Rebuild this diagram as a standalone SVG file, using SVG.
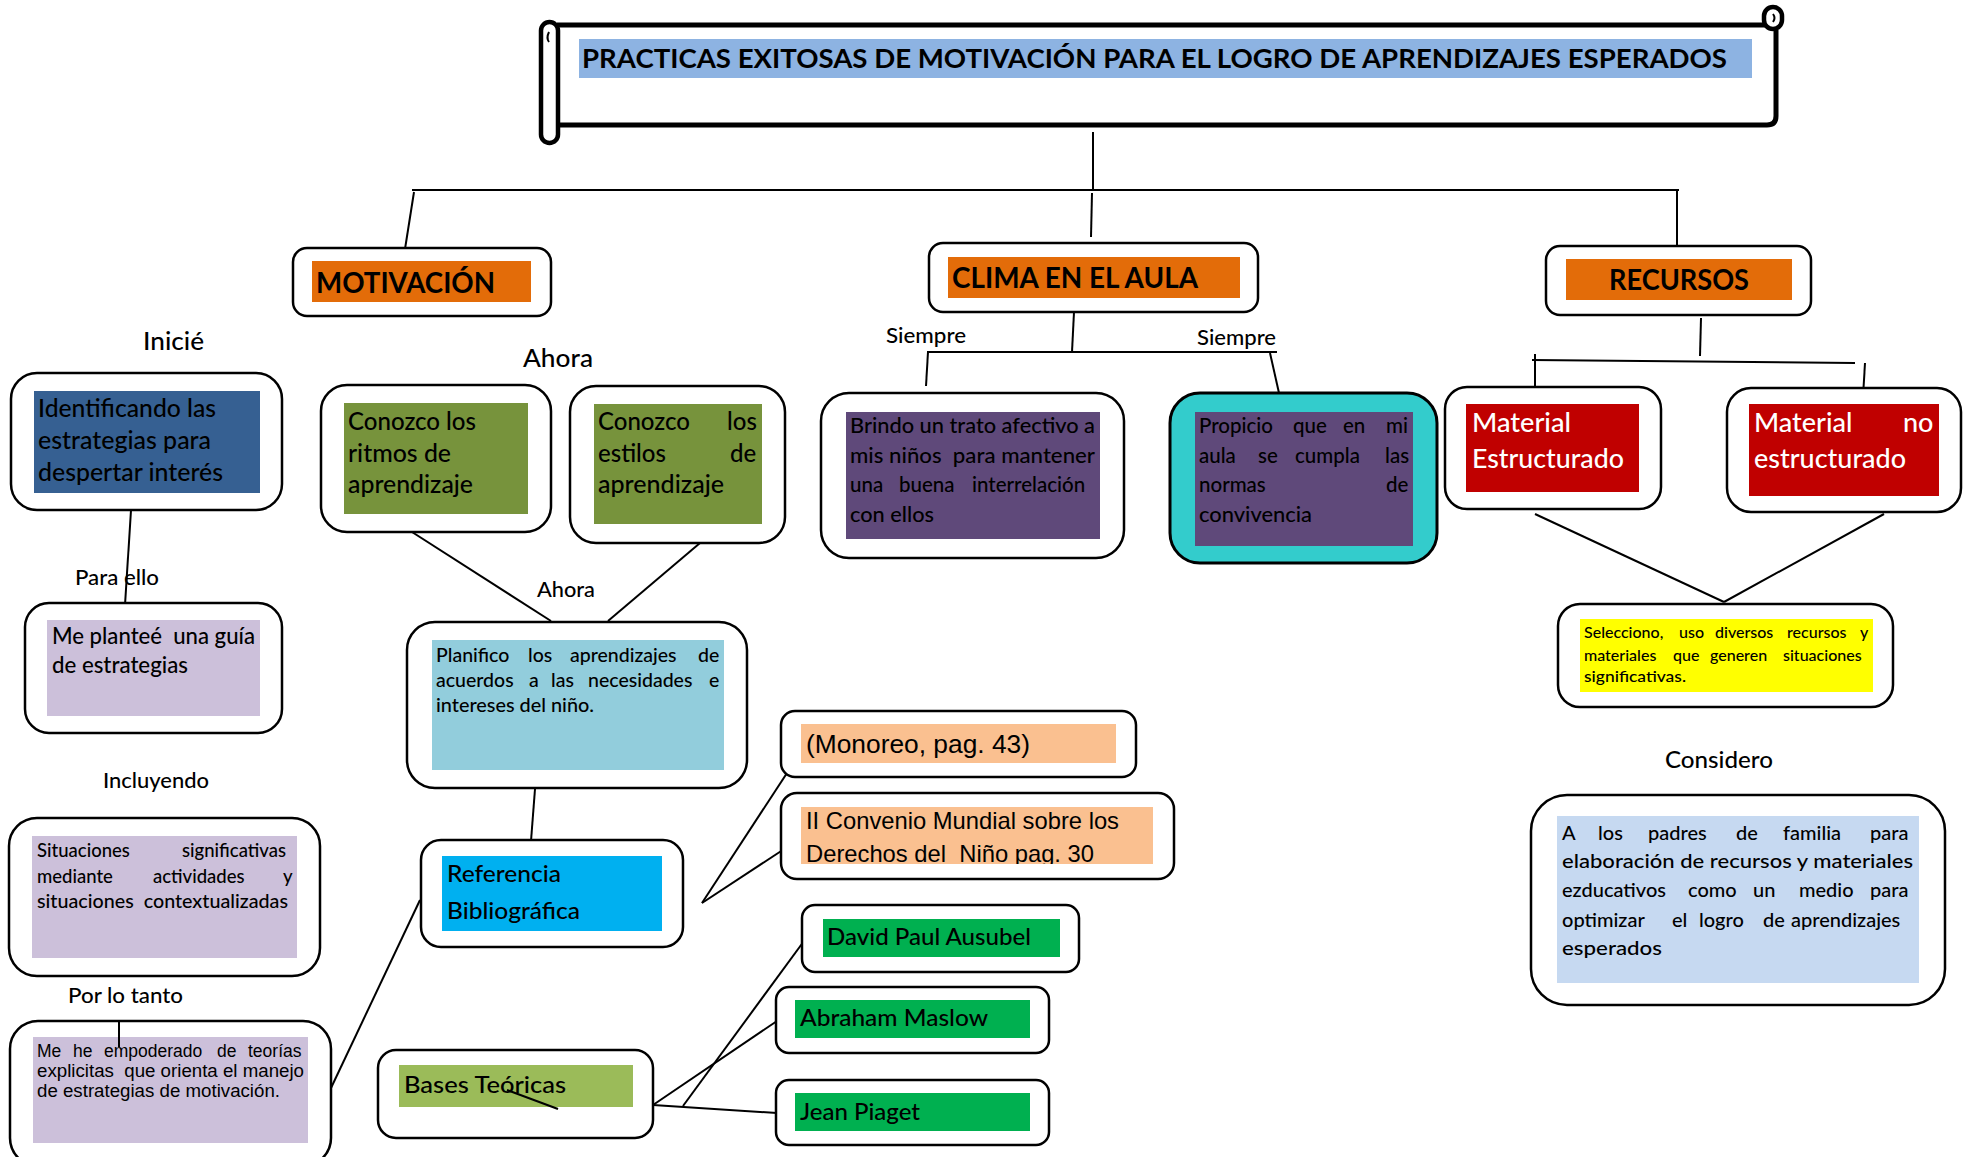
<svg xmlns="http://www.w3.org/2000/svg" width="1974" height="1157" viewBox="0 0 1974 1157">
<style>
.bx{fill:#fff;stroke:#000;stroke-width:2.5}
.ln{stroke:#000;stroke-width:2;fill:none}
.t{font-family:Lato,"Liberation Sans",sans-serif;fill:#000;font-weight:500}
.a{font-family:"Liberation Sans",Arial,sans-serif;fill:#000}
.b{font-weight:bold}
.w{fill:#fff}
</style>
<defs>
<clipPath id="cvclip"><rect x="801" y="807" width="352" height="57"/></clipPath>
</defs>
<rect width="1974" height="1157" fill="#fff"/>

<g id="title">
<path d="M557,25 H1776 V116 Q1776,125 1767,125 H557" fill="#fff" stroke="#000" stroke-width="5"/>
<rect x="541" y="22" width="17" height="121" rx="8.5" fill="#fff" stroke="#000" stroke-width="4.5"/>
<path d="M549,32 q-3,6 0,10" fill="none" stroke="#000" stroke-width="2"/>
<rect x="1764" y="7" width="18" height="22" rx="9" fill="#fff" stroke="#000" stroke-width="4.5"/>
<path d="M1773,14 q3,4 0,8" fill="none" stroke="#000" stroke-width="2"/>
<rect x="579" y="39" width="1173" height="39" fill="#8DB3E2"/>
<text x="582" y="68" class="t b" font-size="26" textLength="1145" lengthAdjust="spacingAndGlyphs">PRACTICAS EXITOSAS DE MOTIVACIÓN PARA EL LOGRO DE APRENDIZAJES ESPERADOS</text>
</g>

<g id="connectors">
<line class="ln" x1="1093" y1="132" x2="1093" y2="190"/>
<line class="ln" x1="412" y1="190" x2="1679" y2="190"/>
<line class="ln" x1="414" y1="192" x2="405" y2="249"/>
<line class="ln" x1="1092" y1="193" x2="1091" y2="237"/>
<line class="ln" x1="1677" y1="190" x2="1677" y2="250"/>
<line class="ln" x1="1074" y1="312" x2="1072" y2="352"/>
<line class="ln" x1="927" y1="352" x2="1277" y2="352"/>
<line class="ln" x1="928" y1="352" x2="926" y2="386"/>
<line class="ln" x1="1270" y1="353" x2="1279" y2="393"/>
<line class="ln" x1="1701" y1="318" x2="1700" y2="356"/>
<line class="ln" x1="1532" y1="360" x2="1855" y2="363"/>
<line class="ln" x1="1535" y1="354" x2="1535" y2="416"/>
<line class="ln" x1="1865" y1="363" x2="1863" y2="397"/>
<line class="ln" x1="1535" y1="514" x2="1724" y2="602"/>
<line class="ln" x1="1884" y1="514" x2="1724" y2="602"/>
<line class="ln" x1="131" y1="510" x2="125" y2="605"/>
<line class="ln" x1="412" y1="532" x2="551" y2="621"/>
<line class="ln" x1="700" y1="543" x2="608" y2="621"/>
<line class="ln" x1="535" y1="789" x2="531" y2="841"/>
<line class="ln" x1="702" y1="903" x2="804" y2="747"/>
<line class="ln" x1="702" y1="903" x2="804" y2="836"/>
<line class="ln" x1="331" y1="1088" x2="420" y2="900"/>
<line class="ln" x1="653" y1="1105" x2="777" y2="1021"/>
<line class="ln" x1="653" y1="1105" x2="777" y2="1113"/>
<line class="ln" x1="683" y1="1106" x2="804" y2="941"/>
</g>

<g id="motivacion">
<rect class="bx" x="293" y="248" width="258" height="68" rx="14"/>
<rect x="312" y="261" width="219" height="41" fill="#E36C09"/>
<text x="316" y="293" class="t b" font-size="28" textLength="179" lengthAdjust="spacingAndGlyphs">MOTIVACIÓN</text>
</g>

<g id="clima">
<rect class="bx" x="929" y="243" width="329" height="69" rx="14"/>
<rect x="948" y="257" width="292" height="41" fill="#E36C09"/>
<text x="952" y="288" class="t b" font-size="28" textLength="246" lengthAdjust="spacingAndGlyphs">CLIMA EN EL AULA</text>
</g>

<g id="recursos">
<rect class="bx" x="1546" y="246" width="265" height="69" rx="14"/>
<rect x="1566" y="259" width="226" height="41" fill="#E36C09"/>
<text x="1609" y="290" class="t b" font-size="28" textLength="140" lengthAdjust="spacingAndGlyphs">RECURSOS</text>
</g>

<g id="labels">
<text x="143" y="350" class="t" font-size="25" textLength="61" lengthAdjust="spacingAndGlyphs">Inicié</text>
<text x="523" y="367" class="t" font-size="25" textLength="70" lengthAdjust="spacingAndGlyphs">Ahora</text>
<text x="75" y="585" class="t" font-size="21" textLength="84" lengthAdjust="spacingAndGlyphs">Para ello</text>
<text x="537" y="597" class="t" font-size="21" textLength="58" lengthAdjust="spacingAndGlyphs">Ahora</text>
<text x="103" y="788" class="t" font-size="21" textLength="106" lengthAdjust="spacingAndGlyphs">Incluyendo</text>
<text x="68" y="1003" class="t" font-size="21" textLength="115" lengthAdjust="spacingAndGlyphs">Por lo tanto</text>
<text x="886" y="343" class="t" font-size="21.5" textLength="80" lengthAdjust="spacingAndGlyphs">Siempre</text>
<text x="1197" y="345" class="t" font-size="21.5" textLength="79" lengthAdjust="spacingAndGlyphs">Siempre</text>
<text x="1665" y="768" class="t" font-size="23.5" textLength="108" lengthAdjust="spacingAndGlyphs">Considero</text>
</g>

<g id="identificando">
<rect class="bx" x="11" y="373" width="271" height="137" rx="26"/>
<rect x="34" y="391" width="226" height="102" fill="#366092"/>
<text class="t" font-size="24"><tspan x="38" y="417" textLength="178" lengthAdjust="spacingAndGlyphs">Identificando las</tspan></text>
<text class="t" font-size="24"><tspan x="38" y="449" textLength="173" lengthAdjust="spacingAndGlyphs">estrategias para</tspan></text>
<text class="t" font-size="24"><tspan x="38" y="481" textLength="185" lengthAdjust="spacingAndGlyphs">despertar interés</tspan></text>
</g>

<g id="ritmos">
<rect class="bx" x="321" y="385" width="230" height="147" rx="26"/>
<rect x="344" y="403" width="184" height="111" fill="#77933C"/>
<text x="348" y="430" class="t" font-size="24" textLength="128" lengthAdjust="spacingAndGlyphs">Conozco los</text>
<text x="348" y="462" class="t" font-size="24" textLength="103" lengthAdjust="spacingAndGlyphs">ritmos de</text>
<text x="348" y="493" class="t" font-size="24" textLength="125" lengthAdjust="spacingAndGlyphs">aprendizaje</text>
</g>

<g id="estilos">
<rect class="bx" x="570" y="386" width="215" height="157" rx="26"/>
<rect x="594" y="404" width="168" height="120" fill="#77933C"/>
<text class="t" font-size="24"><tspan x="598" y="430">Conozco</tspan><tspan x="727" y="430">los</tspan></text>
<text class="t" font-size="24"><tspan x="598" y="462">estilos</tspan><tspan x="730" y="462">de</tspan></text>
<text x="598" y="493" class="t" font-size="24" textLength="126" lengthAdjust="spacingAndGlyphs">aprendizaje</text>
</g>

<g id="planteé">
<rect class="bx" x="25" y="603" width="257" height="130" rx="24"/>
<rect x="47" y="620" width="213" height="96" fill="#CCC0DA"/>
<text x="52" y="644" class="t" font-size="23" textLength="203" lengthAdjust="spacingAndGlyphs" xml:space="preserve">Me planteé  una guía</text>
<text x="52" y="673" class="t" font-size="23" textLength="136" lengthAdjust="spacingAndGlyphs">de estrategias</text>
</g>

<g id="situaciones">
<rect class="bx" x="9" y="818" width="311" height="158" rx="28"/>
<rect x="32" y="836" width="265" height="122" fill="#CCC0DA"/>
<text class="t" font-size="18.5"><tspan x="37" y="857">Situaciones</tspan><tspan x="182" y="857">significativas</tspan></text>
<text class="t" font-size="18.5"><tspan x="37" y="883">mediante</tspan><tspan x="153" y="883">actividades</tspan><tspan x="283" y="883">y</tspan></text>
<text x="37" y="908" class="t" font-size="18.5" textLength="251" lengthAdjust="spacingAndGlyphs" xml:space="preserve">situaciones  contextualizadas</text>
</g>

<g id="empoderado">
<rect class="bx" x="10" y="1021" width="321" height="145" rx="28"/>
<rect x="33" y="1037" width="275" height="106" fill="#CCC0DA"/>
<text class="a" font-size="17.5"><tspan x="37" y="1057">Me</tspan><tspan x="73" y="1057">he</tspan><tspan x="104" y="1057">empoderado</tspan><tspan x="217" y="1057">de</tspan><tspan x="248" y="1057">teorías</tspan></text>
<text x="37" y="1077" class="a" font-size="17.5" textLength="267" lengthAdjust="spacingAndGlyphs" xml:space="preserve">explicitas  que orienta el manejo</text>
<text x="37" y="1097" class="a" font-size="17.5" textLength="243" lengthAdjust="spacingAndGlyphs">de estrategias de motivación.</text>
<line class="ln" x1="119" y1="1022" x2="119" y2="1047"/>
</g>

<g id="planifico">
<rect class="bx" x="407" y="622" width="340" height="166" rx="28"/>
<rect x="432" y="640" width="292" height="130" fill="#92CDDC"/>
<text class="t" font-size="19.5"><tspan x="436" y="662">Planifico</tspan><tspan x="528" y="662">los</tspan><tspan x="570" y="662">aprendizajes</tspan><tspan x="698" y="662">de</tspan></text>
<text class="t" font-size="19.5"><tspan x="436" y="687">acuerdos</tspan><tspan x="529" y="687">a</tspan><tspan x="551" y="687">las</tspan><tspan x="588" y="687">necesidades</tspan><tspan x="709" y="687">e</tspan></text>
<text x="436" y="712" class="t" font-size="19.5" textLength="158" lengthAdjust="spacingAndGlyphs">intereses del niño.</text>
</g>

<g id="referencia">
<rect class="bx" x="421" y="840" width="262" height="107" rx="20"/>
<rect x="442" y="856" width="220" height="75" fill="#00B0F0"/>
<text x="447" y="882" class="t" font-size="23" textLength="114" lengthAdjust="spacingAndGlyphs">Referencia</text>
<text x="447" y="919" class="t" font-size="23" textLength="133" lengthAdjust="spacingAndGlyphs">Bibliográfica</text>
</g>

<g id="bases">
<rect class="bx" x="378" y="1050" width="275" height="88" rx="18"/>
<rect x="399" y="1065" width="234" height="42" fill="#9BBB59"/>
<text x="404" y="1093" class="t" font-size="23" textLength="162" lengthAdjust="spacingAndGlyphs">Bases Teóricas</text>
<line class="ln" x1="507" y1="1090" x2="558" y2="1109"/>
</g>

<g id="monoreo">
<rect class="bx" x="781" y="711" width="355" height="66" rx="14"/>
<rect x="801" y="724" width="315" height="39" fill="#FAC090"/>
<text x="806" y="753" class="a" font-size="25" textLength="224" lengthAdjust="spacingAndGlyphs">(Monoreo, pag. 43)</text>
</g>

<g id="convenio">
<rect class="bx" x="781" y="793" width="393" height="86" rx="16"/>
<rect x="801" y="807" width="352" height="57" fill="#FAC090"/>
<g clip-path="url(#cvclip)">
<text x="806" y="829" class="a" font-size="24" textLength="313" lengthAdjust="spacingAndGlyphs">II Convenio Mundial sobre los</text>
<text x="806" y="862" class="a" font-size="24" textLength="288" lengthAdjust="spacingAndGlyphs" xml:space="preserve">Derechos del  Niño pag. 30</text>
</g>
</g>

<g id="ausubel">
<rect class="bx" x="802" y="905" width="277" height="67" rx="13"/>
<rect x="823" y="919" width="237" height="38" fill="#00B050"/>
<text x="827" y="945" class="t" font-size="23" textLength="204" lengthAdjust="spacingAndGlyphs">David Paul Ausubel</text>
</g>

<g id="maslow">
<rect class="bx" x="776" y="987" width="273" height="66" rx="13"/>
<rect x="795" y="1000" width="235" height="38" fill="#00B050"/>
<text x="800" y="1026" class="t" font-size="23" textLength="188" lengthAdjust="spacingAndGlyphs">Abraham Maslow</text>
</g>

<g id="piaget">
<rect class="bx" x="776" y="1080" width="273" height="65" rx="13"/>
<rect x="795" y="1093" width="235" height="38" fill="#00B050"/>
<text x="800" y="1120" class="t" font-size="23" textLength="120" lengthAdjust="spacingAndGlyphs">Jean Piaget</text>
</g>

<g id="brindo">
<rect class="bx" x="821" y="393" width="303" height="165" rx="28"/>
<rect x="846" y="412" width="254" height="127" fill="#5F497A"/>
<text x="850" y="433" class="t" font-size="20.5" textLength="245" lengthAdjust="spacingAndGlyphs">Brindo un trato afectivo a</text>
<text x="850" y="463" class="t" font-size="20.5" textLength="245" lengthAdjust="spacingAndGlyphs" xml:space="preserve">mis niños  para mantener</text>
<text class="t" font-size="20.5"><tspan x="850" y="492">una</tspan><tspan x="899" y="492">buena</tspan><tspan x="972" y="492">interrelación</tspan></text>
<text x="850" y="522" class="t" font-size="20.5" textLength="84" lengthAdjust="spacingAndGlyphs">con ellos</text>
</g>

<g id="propicio">
<rect x="1170" y="393" width="267" height="170" rx="30" fill="#33CCCC" stroke="#000" stroke-width="3"/>
<rect x="1195" y="412" width="218" height="134" fill="#5F497A"/>
<text class="t" font-size="20.5"><tspan x="1199" y="433">Propicio</tspan><tspan x="1293" y="433">que</tspan><tspan x="1343" y="433">en</tspan><tspan x="1386" y="433">mi</tspan></text>
<text class="t" font-size="20.5"><tspan x="1199" y="463">aula</tspan><tspan x="1258" y="463">se</tspan><tspan x="1295" y="463">cumpla</tspan><tspan x="1385" y="463">las</tspan></text>
<text class="t" font-size="20.5"><tspan x="1199" y="492">normas</tspan><tspan x="1386" y="492">de</tspan></text>
<text x="1199" y="522" class="t" font-size="20.5" textLength="113" lengthAdjust="spacingAndGlyphs">convivencia</text>
</g>

<g id="material-estructurado">
<rect class="bx" x="1445" y="387" width="216" height="122" rx="22"/>
<rect x="1466" y="404" width="173" height="88" fill="#C00000"/>
<text x="1472" y="432" class="t w" font-size="27" textLength="99" lengthAdjust="spacingAndGlyphs">Material</text>
<text x="1472" y="468" class="t w" font-size="27" textLength="152" lengthAdjust="spacingAndGlyphs">Estructurado</text>
</g>

<g id="material-no-estructurado">
<rect class="bx" x="1727" y="388" width="234" height="124" rx="24"/>
<rect x="1749" y="404" width="190" height="92" fill="#C00000"/>
<text class="t w" font-size="27"><tspan x="1754" y="432">Material</tspan><tspan x="1903" y="432">no</tspan></text>
<text x="1754" y="468" class="t w" font-size="27" textLength="152" lengthAdjust="spacingAndGlyphs">estructurado</text>
</g>

<g id="selecciono">
<rect class="bx" x="1558" y="604" width="335" height="103" rx="22"/>
<rect x="1580" y="619" width="293" height="73" fill="#FFFF00"/>
<text class="t" font-size="16"><tspan x="1584" y="638">Selecciono,</tspan><tspan x="1679" y="638">uso</tspan><tspan x="1715" y="638">diversos</tspan><tspan x="1787" y="638">recursos</tspan><tspan x="1860" y="638">y</tspan></text>
<text class="t" font-size="16"><tspan x="1584" y="661">materiales</tspan><tspan x="1673" y="661">que</tspan><tspan x="1710" y="661">generen</tspan><tspan x="1783" y="661">situaciones</tspan></text>
<text x="1584" y="682" class="t" font-size="16" textLength="102" lengthAdjust="spacingAndGlyphs">significativas.</text>
</g>

<g id="considero">
<rect class="bx" x="1531" y="795" width="414" height="210" rx="36"/>
<rect x="1557" y="816" width="362" height="167" fill="#C6D9F1"/>
<text class="t" font-size="20"><tspan x="1562" y="840">A</tspan><tspan x="1598" y="840">los</tspan><tspan x="1648" y="840">padres</tspan><tspan x="1736" y="840">de</tspan><tspan x="1783" y="840">familia</tspan><tspan x="1870" y="840">para</tspan></text>
<text x="1562" y="868" class="t" font-size="20" textLength="351" lengthAdjust="spacingAndGlyphs">elaboración de recursos y materiales</text>
<text class="t" font-size="20"><tspan x="1562" y="897">ezducativos</tspan><tspan x="1688" y="897">como</tspan><tspan x="1753" y="897">un</tspan><tspan x="1799" y="897">medio</tspan><tspan x="1870" y="897">para</tspan></text>
<text class="t" font-size="20"><tspan x="1562" y="927">optimizar</tspan><tspan x="1672" y="927">el</tspan><tspan x="1699" y="927">logro</tspan><tspan x="1763" y="927">de</tspan><tspan x="1791" y="927">aprendizajes</tspan></text>
<text x="1562" y="955" class="t" font-size="20" textLength="100" lengthAdjust="spacingAndGlyphs">esperados</text>
</g>
</svg>
